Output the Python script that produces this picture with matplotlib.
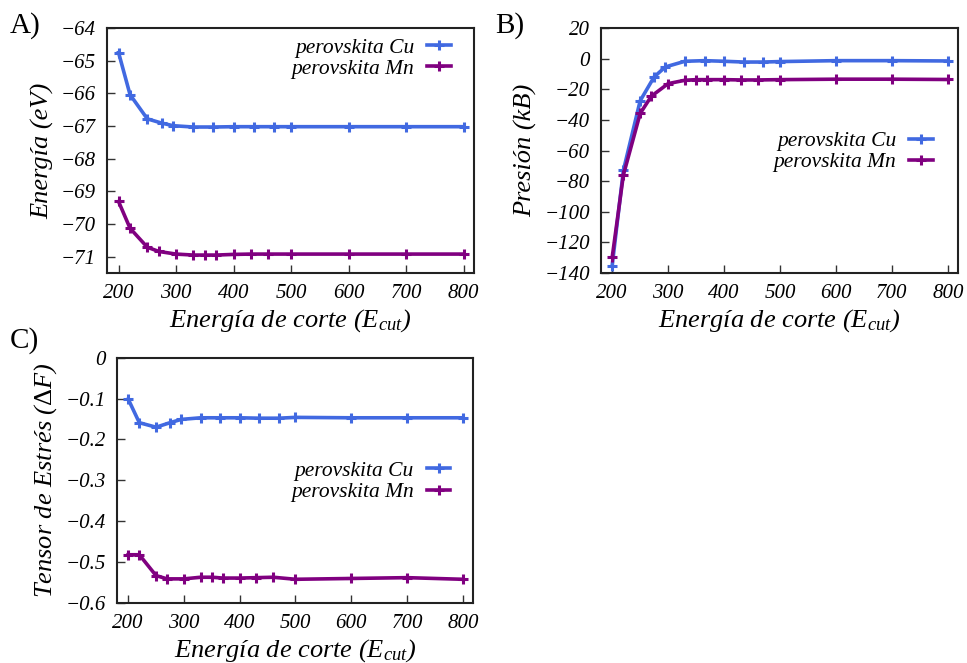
import matplotlib
matplotlib.use('Agg')
import matplotlib.pyplot as plt
from matplotlib.ticker import FuncFormatter

# datos
x_cu = [200, 220, 250, 275, 295, 330, 365, 400, 435, 470, 500, 600, 700, 800]
x_mn = [200, 220, 250, 270, 300, 330, 350, 370, 400, 430, 460, 500, 600, 700, 800]

energia_cu = [-64.75, -66.04, -66.78, -66.91, -66.99, -67.03, -67.03, -67.02, -67.02, -67.02, -67.02, -67.02, -67.02, -67.02]
energia_mn = [-69.31, -70.13, -70.71, -70.84, -70.92, -70.95, -70.95, -70.95, -70.93, -70.92, -70.92, -70.92, -70.92, -70.92, -70.92]

presion_cu = [-135.2, -73.0, -27.5, -11.9, -5.4, -1.7, -1.3, -1.7, -2.2, -2.2, -1.9, -1.3, -1.3, -1.5]
presion_mn = [-129.8, -76.0, -35.8, -24.5, -16.3, -14.1, -13.7, -13.7, -13.7, -13.9, -13.9, -13.7, -13.4, -13.4, -13.6]

estres_cu = [-0.101, -0.159, -0.170, -0.159, -0.151, -0.147, -0.147, -0.147, -0.148, -0.148, -0.146, -0.147, -0.147, -0.147]
estres_mn = [-0.482, -0.482, -0.533, -0.541, -0.541, -0.537, -0.537, -0.539, -0.539, -0.538, -0.537, -0.542, -0.540, -0.538, -0.542]

plt.rcParams['font.family'] = 'Liberation Serif'
plt.rcParams['mathtext.fontset'] = 'custom'
plt.rcParams['mathtext.rm'] = 'Liberation Serif'
plt.rcParams['mathtext.it'] = 'Liberation Serif:italic'

azul = '#4169e1'
morado = '#800080'
xlab = r'Energía de corte ($E_{cut}$)'

fig = plt.figure(figsize=(9.67, 6.63), dpi=100)
axA = fig.add_axes([0.1107, 0.5882, 0.3795, 0.3695])
axB = fig.add_axes([0.6215, 0.5882, 0.3692, 0.3695])
axC = fig.add_axes([0.1210, 0.0905, 0.3680, 0.3700])


def fmt(v, pos):
    s = '%g' % round(v, 6)
    return s.replace('-', '\u2212')


def dibujar(ax, y_cu, y_mn, ylim, yticks, ylabel, leg_y, leg_x):
    ax.plot(x_cu, y_cu, color=azul, lw=2.6, marker='+', ms=7.5, mew=2.2, label='perovskita Cu')
    ax.plot(x_mn, y_mn, color=morado, lw=2.6, marker='+', ms=7.5, mew=2.2, label='perovskita Mn')
    ax.set_xlim(180, 818)
    ax.set_ylim(*ylim)
    ax.set_xticks([200, 300, 400, 500, 600, 700, 800])
    ax.set_yticks(yticks)
    ax.yaxis.set_major_formatter(FuncFormatter(fmt))
    ax.tick_params(direction='in', length=6, width=1, labelsize=15, pad=8, color='#333333')
    for lbl in ax.get_xticklabels() + ax.get_yticklabels():
        lbl.set_style('italic')
    for sp in ax.spines.values():
        sp.set_linewidth(1.5)
        sp.set_color('#222222')
    ax.set_xlabel(xlab, fontsize=19, style='italic', labelpad=3)
    ax.set_ylabel(ylabel, fontsize=19, style='italic', labelpad=5)
    ax.legend(loc='center right', bbox_to_anchor=(leg_x, leg_y), frameon=False,
              markerfirst=False, handlelength=1.1, handletextpad=0.6,
              labelspacing=0.05, borderpad=0, borderaxespad=0, prop={'style': 'italic', 'size': 15.5})


dibujar(axA, energia_cu, energia_mn, (-71.5, -64), list(range(-71, -63)), 'Energía (eV)', 0.876, 0.937)
dibujar(axB, presion_cu, presion_mn, (-140, 20), list(range(-140, 21, 20)), 'Presión (kB)', 0.495, 0.93)
dibujar(axC, estres_cu, estres_mn, (-0.6, 0), [-0.6, -0.5, -0.4, -0.3, -0.2, -0.1, 0], r'Tensor de Estrés ($\Delta F$)', 0.495, 0.937)

fig.text(0.010, 0.962, 'A)', fontsize=21, va='center')
fig.text(0.512, 0.962, 'B)', fontsize=21, va='center')
fig.text(0.010, 0.487, 'C)', fontsize=21, va='center')

fig.savefig('out.png', dpi=100)
